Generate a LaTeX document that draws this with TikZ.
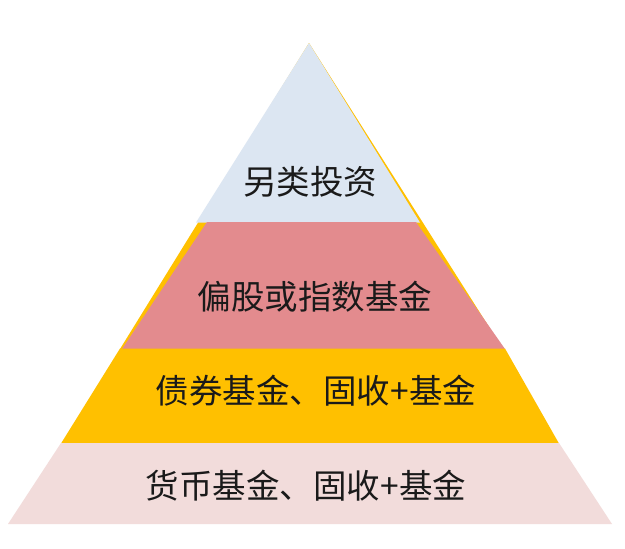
\documentclass[tikz,border=0pt]{standalone}
\usepackage{fontspec}
\newfontfamily\cjk{Noto Sans CJK SC}
\definecolor{goldc}{HTML}{FFC000}
\definecolor{bluec}{HTML}{DCE6F2}
\definecolor{redc}{HTML}{E38B8E}
\definecolor{pinkc}{HTML}{F2DCDB}
\definecolor{txtc}{HTML}{1A1A1A}
\begin{document}
\begin{tikzpicture}[x=1pt,y=-1pt,
  lbl/.style={inner sep=0pt,text=txtc,font=\cjk\fontsize{33.5}{33.5}\selectfont}]
\useasboundingbox (0,0) rectangle (625,549);
\fill[white] (0,0) rectangle (625,549);
% yellow backing triangle
\fill[goldc] (309,43) -- (503,349) -- (120,349) -- cycle;
% top layer
\fill[bluec] (309,43) -- (420,222.5) -- (196,222.5) -- cycle;
% second layer
\fill[redc] (207,222) -- (416,222) -- (505,349) -- (122,349) -- cycle;
% third layer
\fill[goldc] (120,348.5) -- (505,348.5) -- (559,443.5) -- (61,443.5) -- cycle;
% bottom layer
\fill[pinkc] (61,443) -- (559,443) -- (612,524) -- (8,524) -- cycle;
% labels
\node[lbl] (l1) at (310,182) {另类投资};
\node[lbl] (l2) at (315,297) {偏股或指数基金};
\node[lbl] (l3) at (316,391) {债券基金、固收+基金};
\node[lbl] (l4) at (306,486) {货币基金、固收+基金};
\end{tikzpicture}
\end{document}
